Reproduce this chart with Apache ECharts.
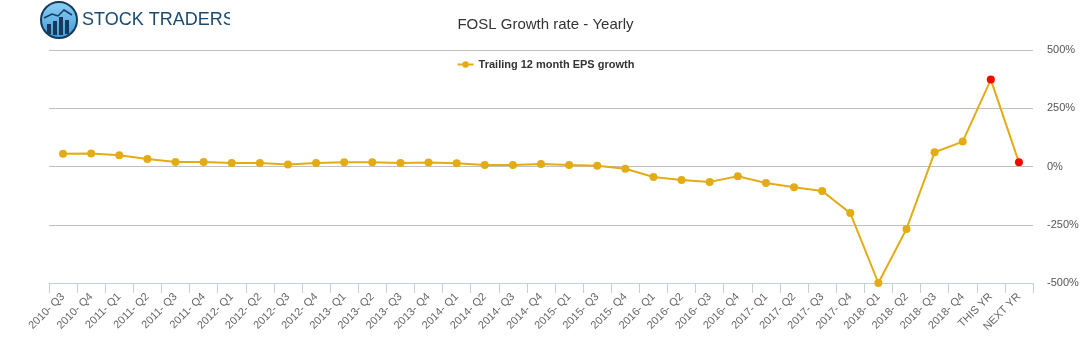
<!DOCTYPE html>
<html>
<head>
<meta charset="utf-8">
<script src="https://cdn.jsdelivr.net/npm/echarts@6/dist/echarts.min.js"></script>
<style>
  html, body { margin: 0; padding: 0; background: #fff; }
  #chart { width: 1091px; height: 350px; }
</style>
</head>
<body>
<div id="chart"></div>
<script>
// categories along the bottom
const categories = [
    '2010- Q3', '2010- Q4',
    '2011- Q1', '2011- Q2', '2011- Q3', '2011- Q4',
    '2012- Q1', '2012- Q2', '2012- Q3', '2012- Q4',
    '2013- Q1', '2013- Q2', '2013- Q3', '2013- Q4',
    '2014- Q1', '2014- Q2', '2014- Q3', '2014- Q4',
    '2015- Q1', '2015- Q3', '2015- Q4',
    '2016- Q1', '2016- Q2', '2016- Q3', '2016- Q4',
    '2017- Q1', '2017- Q2', '2017- Q3', '2017- Q4',
    '2018- Q1', '2018- Q2', '2018- Q3', '2018- Q4',
    'THIS YR', 'NEXT YR'
];

// trailing 12 month EPS growth (%)
const epsGrowth = [
    55, 56,
    48, 32, 19, 19,
    15, 15, 9, 15,
    18, 18, 15, 17,
    14, 6, 6, 11,
    6, 3, -10,
    -45, -58, -66, -42,
    -71, -89, -105, -200,
    -500, -268, 61, 107,
    373, 18
];

// estimate points drawn in red
const estimateLabels = ['THIS YR', 'NEXT YR'];

const yTicks = { min: -500, max: 500, interval: 250 };

const chart = echarts.init(document.getElementById('chart'));

const gold = '#e3ac14';

const seriesData = epsGrowth.map((v, i) => {
    if (estimateLabels.includes(categories[i])) {
        return { value: v, itemStyle: { color: '#ff0000' } };
    }
    return v;
});

const option = {
    animation: false,
    textStyle: { fontFamily: 'Liberation Sans, Arial, sans-serif' },
    title: {
        text: 'FOSL Growth rate - Yearly',
        left: 'center',
        top: 12,
        textStyle: { fontSize: 15, fontWeight: 'normal', color: '#333' }
    },
    legend: {
        top: 54,
        left: 'center',
        itemWidth: 16,
        itemHeight: 8,
        textStyle: { fontSize: 11, fontWeight: 'bold', color: '#333' },
        data: ['Trailing 12 month EPS growth']
    },
    grid: {
        left: 49,
        right: 58,
        top: 50,
        bottom: 67
    },
    xAxis: {
        type: 'category',
        data: categories,
        boundaryGap: true,
        axisLine: { onZero: false, lineStyle: { color: '#c0d0e0' } },
        axisTick: { show: true, length: 10, lineStyle: { color: '#c0d0e0' } },
        axisLabel: {
            interval: 0,
            rotate: 45,
            fontSize: 11,
            color: '#666',
            margin: 12
        },
        splitLine: { show: false }
    },
    yAxis: {
        type: 'value',
        position: 'right',
        min: yTicks.min,
        max: yTicks.max,
        interval: yTicks.interval,
        axisLine: { show: false },
        axisTick: { show: false },
        axisLabel: {
            formatter: '{value}%',
            fontSize: 11,
            color: '#555',
            margin: 14
        },
        splitLine: { lineStyle: { color: '#c0c0c0' } }
    },
    series: [
        {
            name: 'Trailing 12 month EPS growth',
            type: 'line',
            data: seriesData,
            symbol: 'circle',
            symbolSize: 8,
            itemStyle: { color: gold },
            lineStyle: { color: gold, width: 2 }
        }
    ],
    graphic: [
        // logo icon
        {
            type: 'circle',
            shape: { cx: 59, cy: 20, r: 18 },
            style: {
                fill: new echarts.graphic.LinearGradient(0, 0, 0, 1, [
                    { offset: 0, color: '#8fd0f5' },
                    { offset: 1, color: '#3d9ad8' }
                ]),
                stroke: '#153a5c',
                lineWidth: 2
            },
            z: 10
        },
        { type: 'rect', shape: { x: 47, y: 24, width: 4, height: 10 }, style: { fill: '#153a5c' }, z: 11 },
        { type: 'rect', shape: { x: 53, y: 21, width: 4, height: 14 }, style: { fill: '#153a5c' }, z: 11 },
        { type: 'rect', shape: { x: 59, y: 17, width: 4, height: 18 }, style: { fill: '#153a5c' }, z: 11 },
        { type: 'rect', shape: { x: 65, y: 20, width: 4, height: 14 }, style: { fill: '#153a5c' }, z: 11 },
        {
            type: 'polyline',
            shape: { points: [[44, 18], [52, 14], [58, 16], [64, 10], [72, 15]] },
            style: { stroke: '#153a5c', lineWidth: 1.5, fill: null },
            z: 11
        },
        {
            type: 'text',
            left: 82,
            top: 11,
            style: {
                text: 'STOCK TRADERS',
                fontSize: 18,
                fontFamily: 'Liberation Sans, Arial, sans-serif',
                fill: '#1b4a70'
            },
            z: 10
        },
        // crop the logo text like the original
        { type: 'rect', shape: { x: 230, y: 0, width: 60, height: 44 }, style: { fill: '#fff' }, z: 12 }
    ]
};

chart.setOption(option);

window.addEventListener('resize', () => chart.resize());
</script>
</body>
</html>
